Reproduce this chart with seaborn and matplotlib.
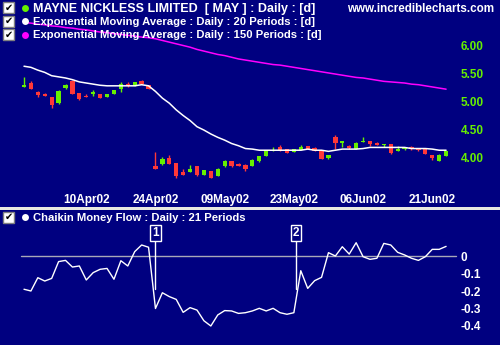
import matplotlib
matplotlib.use("Agg")
import matplotlib.pyplot as plt
from matplotlib.patches import Rectangle
from matplotlib.lines import Line2D
import numpy as np
import pandas as pd
import seaborn as sns

# ---------------- data ----------------
opens = [5.26, 5.33, 5.17, 5.13, 5.08, 4.97, 5.24, 5.37, 5.15, 5.10,
         5.13, 5.13, 5.08, 5.14, 5.22, 5.32, 5.28, 5.36, 5.29, 3.85,
         3.88, 3.99, 3.90, 3.74, 3.74, 3.85, 3.69, 3.76, 3.67, 3.85,
         3.94, 3.88, 3.87, 3.85, 3.94, 4.03, 4.12, 4.19, 4.15, 4.10,
         4.13, 4.20, 4.17, 4.12, 3.99, 4.36, 4.26, 4.20, 4.15, 4.28,
         4.29, 4.26, 4.22, 4.24, 4.12, 4.15, 4.19, 4.15, 4.15, 4.04,
         3.94, 4.03]
highs = [5.44, 5.37, 5.19, 5.15, 5.08, 5.21, 5.31, 5.38, 5.15, 5.13,
         5.21, 5.13, 5.14, 5.20, 5.34, 5.34, 5.35, 5.38, 5.30, 4.10,
         4.01, 4.04, 3.90, 3.79, 3.87, 3.85, 3.78, 3.76, 3.81, 3.96,
         3.94, 3.90, 3.89, 3.97, 4.03, 4.13, 4.19, 4.22, 4.15, 4.15,
         4.22, 4.20, 4.19, 4.12, 4.04, 4.40, 4.29, 4.22, 4.28, 4.37,
         4.29, 4.28, 4.24, 4.24, 4.20, 4.19, 4.20, 4.17, 4.15, 4.04,
         4.06, 4.12]
lows = [5.26, 5.22, 5.08, 5.10, 4.89, 4.95, 5.22, 5.13, 5.03, 5.08,
        5.10, 5.06, 5.08, 5.14, 5.17, 5.26, 5.28, 5.31, 5.23, 3.79,
        3.87, 3.88, 3.63, 3.69, 3.74, 3.67, 3.69, 3.63, 3.67, 3.83,
        3.83, 3.85, 3.76, 3.85, 3.92, 4.03, 4.12, 4.11, 4.08, 4.10,
        4.13, 4.15, 4.12, 3.97, 3.97, 4.15, 4.18, 4.15, 4.15, 4.28,
        4.21, 4.22, 4.19, 4.07, 4.12, 4.13, 4.13, 4.12, 4.06, 3.96,
        3.94, 4.03]
closes = [5.29, 5.22, 5.12, 5.10, 4.94, 5.19, 5.29, 5.13, 5.04, 5.08,
          5.17, 5.06, 5.14, 5.20, 5.32, 5.28, 5.35, 5.31, 5.23, 3.79,
          3.97, 3.88, 3.67, 3.69, 3.79, 3.69, 3.78, 3.63, 3.79, 3.94,
          3.85, 3.85, 3.79, 3.96, 4.03, 4.13, 4.14, 4.13, 4.08, 4.15,
          4.19, 4.15, 4.12, 3.97, 4.04, 4.26, 4.29, 4.17, 4.26, 4.29,
          4.24, 4.22, 4.24, 4.08, 4.15, 4.19, 4.15, 4.14, 4.06, 3.99,
          4.04, 4.12]
ema20 = [5.63, 5.61, 5.56, 5.52, 5.46, 5.44, 5.42, 5.39, 5.35, 5.33,
         5.31, 5.29, 5.28, 5.28, 5.28, 5.28, 5.28, 5.30, 5.28, 5.18,
         5.06, 4.97, 4.85, 4.75, 4.66, 4.55, 4.49, 4.42, 4.36, 4.31,
         4.25, 4.21, 4.16, 4.15, 4.13, 4.13, 4.13, 4.13, 4.13, 4.13,
         4.13, 4.15, 4.13, 4.13, 4.11, 4.13, 4.15, 4.15, 4.15, 4.16,
         4.18, 4.18, 4.18, 4.18, 4.18, 4.18, 4.16, 4.16, 4.16, 4.15,
         4.13, 4.13]
ema150 = [6.41, 6.40, 6.38, 6.37, 6.35, 6.34, 6.32, 6.31, 6.29, 6.28,
          6.26, 6.24, 6.23, 6.21, 6.20, 6.18, 6.17, 6.15, 6.14, 6.12,
          6.09, 6.06, 6.03, 6.00, 5.97, 5.93, 5.90, 5.87, 5.84, 5.82,
          5.79, 5.76, 5.74, 5.72, 5.70, 5.68, 5.66, 5.65, 5.63, 5.61,
          5.59, 5.57, 5.55, 5.53, 5.51, 5.49, 5.47, 5.45, 5.43, 5.42,
          5.40, 5.38, 5.36, 5.35, 5.34, 5.33, 5.31, 5.30, 5.28, 5.26,
          5.24, 5.22]
cmf = [-0.19, -0.20, -0.124, -0.143, -0.128, -0.032, -0.025, -0.063, -0.057, -0.137,
       -0.095, -0.076, -0.071, -0.133, -0.027, -0.057, 0.025, 0.063, 0.05, -0.30,
       -0.21, -0.232, -0.248, -0.322, -0.295, -0.309, -0.37, -0.40, -0.337, -0.312,
       -0.314, -0.328, -0.324, -0.314, -0.299, -0.314, -0.299, -0.324, -0.333, -0.324,
       -0.084, -0.185, -0.141, -0.122, 0.019, 0.0, 0.053, 0.011, 0.076, -0.004,
       -0.019, -0.013, 0.072, 0.063, 0.021, 0.006, -0.013, -0.025, -0.004, 0.038,
       0.038, 0.055]
date_tick_idx = [9, 19, 29, 39, 49, 59]
date_tick_labels = ["10Apr02", "24Apr02", "09May02", "23May02", "06Jun02", "21Jun02"]
price_ticks = [4.00, 4.50, 5.00, 5.50, 6.00]
cmf_ticks = [0, -0.1, -0.2, -0.3, -0.4]
signal_idx = [19, 39.3]
signal_labels = ["1", "2"]

# ---------------- style ----------------
NAVY = "#000080"
GREEN = "#66F000"
RED = "#FF3838"
MAGENTA = "#FF00FF"
sns.set_theme(style="dark")
plt.rcParams["font.family"] = ["Liberation Sans", "DejaVu Sans"]
plt.rcParams["font.weight"] = "bold"

W, H = 500, 345
fig = plt.figure(figsize=(W / 100, H / 100), dpi=100, facecolor=NAVY)


def fx(x):
    return x / W


def fy(y):
    return 1 - y / H


x_lo, x_hi = -3.468, 68.79
n = len(closes)
idx = np.arange(n)
df = pd.DataFrame({"i": idx, "open": opens, "high": highs, "low": lows,
                   "close": closes, "ema20": ema20, "ema150": ema150, "cmf": cmf})

# ---------------- upper (price) axes ----------------
ax = fig.add_axes([0, fy(188), 1, 188 / H])
ax.set_facecolor(NAVY)
for s in ax.spines.values():
    s.set_visible(False)
ax.set_xlim(x_lo, x_hi)
ax.set_ylim(3.4554, 6.8125)

up = df["close"] >= df["open"]
colors = np.where(up, GREEN, RED)
ax.vlines(df["i"], df["low"], df["high"], colors=colors, lw=1.0, zorder=3)
body_h = (df["close"] - df["open"]).abs().clip(lower=0.02)
ax.bar(df["i"], body_h, bottom=np.minimum(df["open"], df["close"]), width=0.62,
       color=colors, linewidth=0, zorder=4)
sns.lineplot(data=df, x="i", y="ema20", ax=ax, color="white", lw=1.1, zorder=5)
sns.lineplot(data=df, x="i", y="ema150", ax=ax, color=MAGENTA, lw=1.1, zorder=2)

ax.set_xlabel("")
ax.set_ylabel("")
ax.set_xticks(date_tick_idx)
ax.set_xticklabels(date_tick_labels)
ax.tick_params(axis="x", length=0, pad=4, colors="white", labelsize=8.5)
ax.yaxis.tick_right()
ax.set_yticks(price_ticks)
ax.set_yticklabels([f"{v:.2f}" for v in price_ticks])
ax.tick_params(axis="y", length=0, pad=-28.5, colors=GREEN, labelsize=8.5)
for t in ax.get_xticklabels() + ax.get_yticklabels():
    t.set_fontweight("bold")
ax.grid(False)

# ---------------- lower (CMF) axes ----------------
ax2 = fig.add_axes([0, 0, 1, 135 / H])
ax2.set_facecolor(NAVY)
for s in ax2.spines.values():
    s.set_visible(False)
ax2.set_xlim(x_lo, x_hi)
ax2.set_ylim(-0.5086, 0.2629)
ax2.axhline(0, xmin=21 / W, xmax=456 / W, color="#A8A8B8", lw=1.0, zorder=1)
sns.lineplot(data=df, x="i", y="cmf", ax=ax2, color="white", lw=1.0, zorder=3)
ax2.set_xlabel("")
ax2.set_ylabel("")
ax2.set_xticks([])
ax2.yaxis.tick_right()
ax2.set_yticks(cmf_ticks)
ax2.set_yticklabels(["0" if v == 0 else f"{v:.1f}" for v in cmf_ticks])
ax2.tick_params(axis="y", length=0, pad=-28.5, colors="white", labelsize=8.5)
for t in ax2.get_yticklabels():
    t.set_fontweight("bold")
ax2.grid(False)

for sx, lab in zip(signal_idx, signal_labels):
    ax2.plot([sx, sx], [0.097, -0.19], color="white", lw=1.0, zorder=4)
    ax2.text(sx, 0.131, lab, color="white", fontsize=8.5, fontweight="bold",
             ha="center", va="center", zorder=5,
             bbox=dict(boxstyle="square,pad=0.15", fc=NAVY, ec="white", lw=1.0))

# ---------------- separator ----------------
fig.patches.append(Rectangle((0, fy(209.5)), 1, 3 / H, transform=fig.transFigure,
                             facecolor="#E8E8E0", edgecolor="none", zorder=10))


# ---------------- legend rows ----------------
def checkbox(x0, y0, ypx_text, dotcolor, text, size):
    fig.patches.append(Rectangle((fx(x0), fy(y0 + 11)), 11 / W, 11 / H,
                                 transform=fig.transFigure, facecolor="white",
                                 edgecolor="#808080", lw=1.0, zorder=11))
    fig.text(fx(x0 + 5.7), fy(y0 + 5.8), "\u2714", color="black", fontsize=7,
             ha="center", va="center", family="DejaVu Sans", zorder=12)
    fig.add_artist(Line2D([fx(24.5)], [fy(ypx_text)], transform=fig.transFigure,
                          marker="o", markersize=5, markerfacecolor=dotcolor,
                          markeredgecolor="none", linestyle="none", zorder=11))
    fig.text(fx(33), fy(ypx_text), text, color="white", fontsize=size, fontweight="bold",
             ha="left", va="center_baseline", zorder=12)


checkbox(3, 2, 7.5, GREEN, "MAYNE NICKLESS LIMITED  [ MAY ] : Daily : [d]", 9)
checkbox(3, 15.5, 21, "white", "Exponential Moving Average : Daily : 20 Periods : [d]", 8.1)
checkbox(3, 29, 34.5, MAGENTA, "Exponential Moving Average : Daily : 150 Periods : [d]", 8.1)
checkbox(3, 211.5, 217, "white", "Chaikin Money Flow : Daily : 21 Periods", 8.1)
fig.text(fx(494), fy(7.5), "www.incrediblecharts.com", color="white", fontsize=8.4,
         fontweight="bold", ha="right", va="center_baseline", zorder=12)

fig.savefig("out.png", dpi=100, facecolor=NAVY)
